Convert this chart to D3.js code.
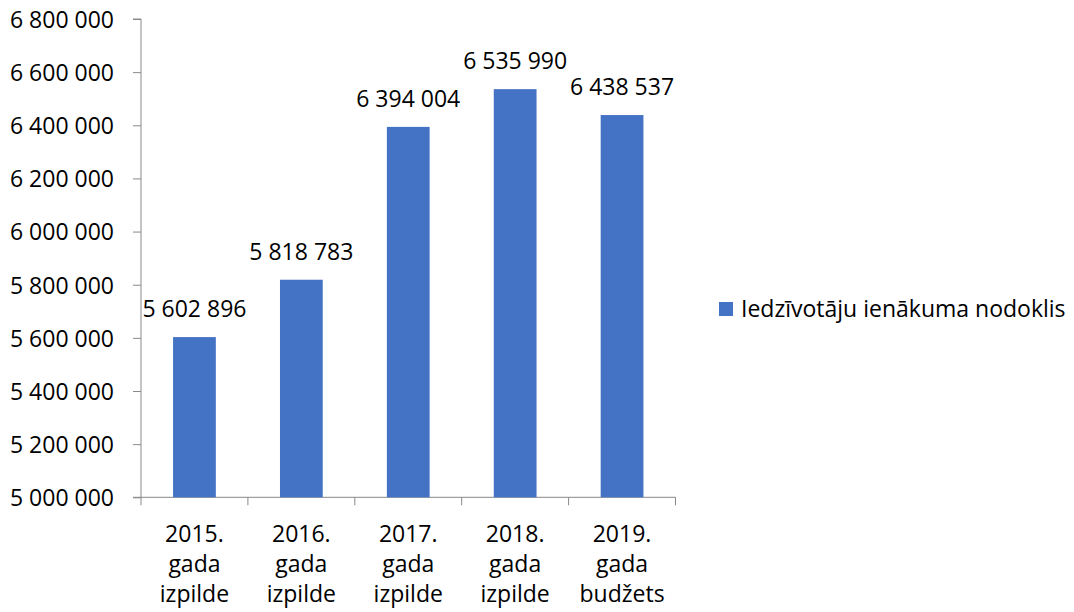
<!DOCTYPE html>
<html>
<head>
<meta charset="utf-8">
<script src="https://cdn.jsdelivr.net/npm/d3@7"></script>
<style>
  body { margin: 0; background: #fff; }
  text { font-family: "Open Sans", sans-serif; fill: #000; }
</style>
</head>
<body>
<script>
var categories = [
    ["2015.", "gada", "izpilde"],
    ["2016.", "gada", "izpilde"],
    ["2017.", "gada", "izpilde"],
    ["2018.", "gada", "izpilde"],
    ["2019.", "gada", "budžets"]
];
var values = [5602896, 5818783, 6394004, 6535990, 6438537];
var yTicks = [5000000, 5200000, 5400000, 5600000, 5800000, 6000000, 6200000, 6400000, 6600000, 6800000];
var seriesName = "Iedzīvotāju ienākuma nodoklis";

var width = 1074,
    height = 612,
    plotLeft = 141, plotRight = 675.5,
    plotTop = 19, plotBottom = 497.3,
    barColor = "#4472C4",
    axisColor = "#898989",
    fontSize = 23;

var fmt = function(v) { return d3.format(",")(v).replace(/,/g, " "); };

var svg = d3.select("body").append("svg")
    .attr("width", width)
    .attr("height", height);

var x = d3.scaleBand()
    .domain(d3.range(values.length))
    .range([plotLeft, plotRight])
    .paddingInner(0.6)
    .paddingOuter(0.3);

var y = d3.scaleLinear()
    .domain([5000000, 6800000])
    .range([plotBottom, plotTop]);

// y axis
var yAxis = svg.append("g")
    .attr("transform", "translate(" + plotLeft + ",0)")
    .call(d3.axisLeft(y).tickValues(yTicks).tickFormat(fmt).tickSize(8).tickPadding(19));
yAxis.selectAll("line, path").attr("stroke", axisColor);
yAxis.select(".domain").attr("d", "M-8," + y(6800000) + "H0V" + y(5000000) + "H-8");
yAxis.selectAll("text")
    .style("font-size", fontSize + "px")
    .attr("dy", "0.36em");

// x axis line and boundary ticks
var g = svg.append("g");
g.append("line")
    .attr("x1", plotLeft).attr("x2", plotRight)
    .attr("y1", plotBottom).attr("y2", plotBottom)
    .attr("stroke", axisColor);
g.selectAll(".xtick")
    .data(d3.range(values.length + 1))
    .enter().append("line")
    .attr("class", "xtick")
    .attr("x1", function(i) { return plotLeft + i * x.step(); })
    .attr("x2", function(i) { return plotLeft + i * x.step(); })
    .attr("y1", plotBottom).attr("y2", plotBottom + 8)
    .attr("stroke", axisColor);

// x labels
var xl = svg.selectAll(".xlabel")
    .data(categories)
    .enter().append("text")
    .attr("class", "xlabel")
    .attr("text-anchor", "middle")
    .style("font-size", fontSize + "px");
xl.selectAll("tspan")
    .data(function(d, i) { return d.map(function(t) { return {t: t, i: i}; }); })
    .enter().append("tspan")
    .attr("x", function(d) { return x(d.i) + x.bandwidth() / 2; })
    .attr("y", function(d, j) { return 541.7 + j * 30; })
    .text(function(d) { return d.t; });

// bars
svg.selectAll(".bar")
    .data(values)
    .enter().append("rect")
    .attr("class", "bar")
    .attr("x", function(d, i) { return x(i); })
    .attr("width", x.bandwidth())
    .attr("y", function(d) { return y(d); })
    .attr("height", function(d) { return plotBottom - y(d); })
    .attr("fill", barColor);

// data labels
svg.selectAll(".vlabel")
    .data(values)
    .enter().append("text")
    .attr("class", "vlabel")
    .attr("text-anchor", "middle")
    .attr("x", function(d, i) { return x(i) + x.bandwidth() / 2; })
    .attr("y", function(d) { return y(d) - 20; })
    .style("font-size", fontSize + "px")
    .text(fmt);

// legend
var legend = svg.append("g").attr("transform", "translate(719,302)");
legend.append("rect")
    .attr("width", 14).attr("height", 14)
    .attr("fill", barColor);
legend.append("text")
    .attr("x", 22).attr("y", 7)
    .attr("dy", "0.36em")
    .style("font-size", fontSize + "px")
    .text(seriesName);
</script>
</body>
</html>
